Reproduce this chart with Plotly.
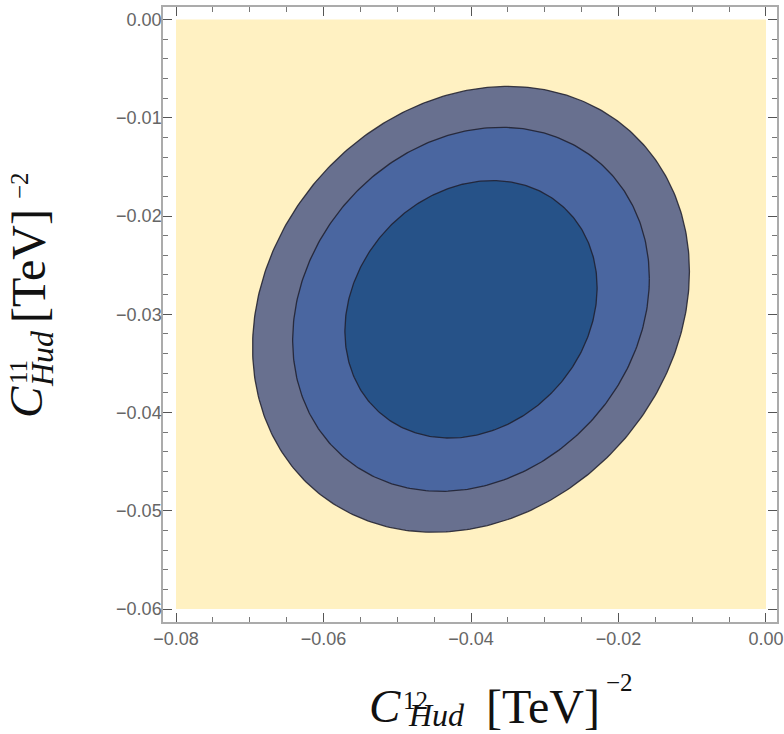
import numpy as np
import plotly.graph_objects as go

# ---------------- data ----------------
x_domain = [-0.08, 0.0]          # region of the contour plot (C_Hud^12)
y_domain = [-0.06, 0.0]          # region of the contour plot (C_Hud^11)
center = [-0.0400, -0.0295]      # best-fit point
sigma = [0.0171, 0.0131]         # widths of the quadratic form
rho = 0.17                        # correlation
levels = [3.0, 2.0, 1.0]          # contour levels (outer -> inner)
level_colors = ["#68708F", "#4A66A0", "#265288"]
background_color = "#FFF1C2"

x_ticks = [-0.08, -0.06, -0.04, -0.02, 0.0]
y_ticks = [-0.06, -0.05, -0.04, -0.03, -0.02, -0.01, 0.0]

# ---------------- figure ----------------
W, H = 784, 734
L, R, T, B = 163, 7, 7, 112
pw, ph = W - L - R, H - T - B

def px(x):
    return (x - L) / pw

def py(y):
    return (H - B - y) / ph

fig = go.Figure()

# background region
fig.add_trace(go.Scatter(
    x=[x_domain[0], x_domain[1], x_domain[1], x_domain[0], x_domain[0]],
    y=[y_domain[0], y_domain[0], y_domain[1], y_domain[1], y_domain[0]],
    mode="lines", fill="toself", fillcolor=background_color,
    line=dict(width=0), hoverinfo="skip", showlegend=False))

cov = np.array([[sigma[0] ** 2, rho * sigma[0] * sigma[1]],
                [rho * sigma[0] * sigma[1], sigma[1] ** 2]])
chol = np.linalg.cholesky(cov)
t = np.linspace(0, 2 * np.pi, 400)
circle = np.vstack([np.cos(t), np.sin(t)])
for k, col in zip(levels, level_colors):
    pts = np.sqrt(k) * chol @ circle
    fig.add_trace(go.Scatter(
        x=center[0] + pts[0], y=center[1] + pts[1],
        mode="lines", fill="toself", fillcolor=col,
        line=dict(color="rgba(30,30,45,0.85)", width=1.3),
        hoverinfo="skip", showlegend=False))

axis_common = dict(
    showline=True, linecolor="#ABABAB", linewidth=1.5, mirror="allticks",
    ticks="inside", ticklen=9, tickwidth=1.2, tickcolor="#555555",
    showgrid=False, zeroline=False, automargin=False,
    ticklabeloverflow="allow",
    tickfont=dict(family="Liberation Sans, Arial, sans-serif", size=18, color="#666666"),
    tickformat=".2f",
)

x0 = x_domain[0] - 13 / 7370
x1 = x_domain[1] + 11 / 7370
y0 = y_domain[0] - 13 / 9825
y1 = y_domain[1] + 12.5 / 9825

fig.update_xaxes(range=[x0, x1], tickvals=x_ticks,
                 minor=dict(dtick=0.005, tick0=0, ticks="inside", ticklen=5,
                            tickwidth=1, tickcolor="#777777"),
                 ticklabelstandoff=0, **axis_common)
fig.update_yaxes(range=[y0, y1], tickvals=y_ticks,
                 minor=dict(dtick=0.002, tick0=0, ticks="inside", ticklen=5,
                            tickwidth=1, tickcolor="#777777"),
                 ticklabelstandoff=-4, **axis_common)

serif = "Liberation Serif, Times New Roman, serif"
title_color = "#111111"

def ann(text, x, y, size, angle=0):
    return dict(text=text, x=px(x), y=py(y), xref="paper", yref="paper",
                xanchor="center", yanchor="middle", showarrow=False,
                textangle=angle,
                font=dict(family=serif, size=size, color=title_color))

anns = [
    # x-axis title
    ann("<i>C</i>", 385, 706, 47),
    ann("12", 415, 700, 25),
    ann("<i>Hud</i>", 436, 715, 32),
    ann("[TeV]", 543, 706, 48),
    ann("\u22122", 619, 682, 25),
    # y-axis title (rotated)
    ann("<i>C</i>", 26, 402, 47, -90),
    ann("11", 18, 372, 25, -90),
    ann("<i>Hud</i>", 42, 359, 32, -90),
    ann("[TeV]", 28, 266, 48, -90),
    ann("\u22122", 20, 186, 25, -90),
]

fig.update_layout(
    width=W, height=H,
    margin=dict(l=L, r=R, t=T, b=B, autoexpand=False),
    plot_bgcolor="white", paper_bgcolor="white",
    annotations=anns,
    showlegend=False,
)

fig.write_html("out.html",
               config={"displayModeBar": False},
               post_script="document.body.style.margin='0px';"
                           "document.body.style.overflow='hidden';")
